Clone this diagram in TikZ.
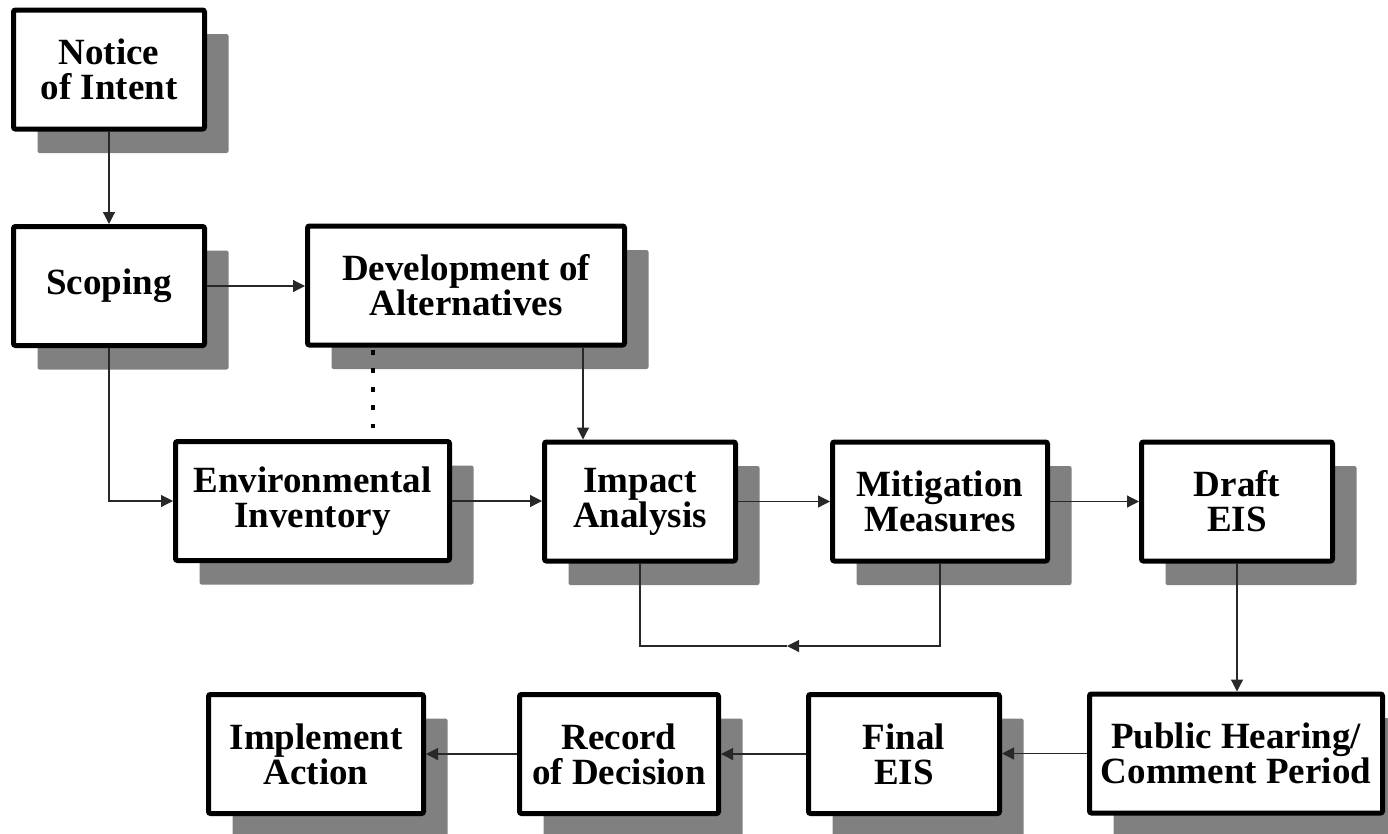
\documentclass[tikz,border=0pt]{standalone}
\usepackage{fontspec}
\setmainfont{Liberation Serif}
\usetikzlibrary{shadows,arrows.meta,calc}
\definecolor{shadowgray}{RGB}{128,128,128}
\definecolor{linegray}{RGB}{40,40,40}
\begin{document}
\begin{tikzpicture}[x=1pt,y=-1pt,
  box/.style={draw=black, line width=5pt, fill=white, rounded corners=2pt,
    minimum height=119pt, align=center, inner sep=0pt,
    font=\bfseries\fontsize{37}{35}\selectfont,
    drop shadow={shadow xshift=24pt, shadow yshift=-24pt, fill=shadowgray, opacity=1, rounded corners=0pt}},
  conn/.style={line width=1.2pt, draw=linegray},
  arr/.style={conn, -{Triangle[length=12pt,width=12pt]}},
  dotted link/.style={draw=black, line width=3.5pt, dash pattern=on 5pt off 13.5pt}]
\useasboundingbox (0,0) rectangle (1388,833);

\node[box, minimum width=191pt] (notice) at (109,69.5) {Notice\\of Intent};
\node[box, minimum width=191pt] (scoping) at (109,286) {Scoping};
\node[box, minimum width=317pt] (dev) at (466,285.5) {Development of\\Alternatives};
\node[box, minimum width=274pt] (env) at (312.5,501) {Environmental\\Inventory};
\node[box, minimum width=191pt] (impact) at (640,501.5) {Impact\\Analysis};
\node[box, minimum width=215pt] (mit) at (940,501.5) {Mitigation\\Measures};
\node[box, minimum width=191pt] (draft) at (1237,501.5) {Draft\\EIS};
\node[box, minimum width=293pt] (public) at (1236,753.5) {Public Hearing/\\Comment Period};
\node[box, minimum width=191pt] (final) at (904,754) {Final\\EIS};
\node[box, minimum width=199pt] (record) at (619,754) {Record\\of Decision};
\node[box, minimum width=215pt] (implement) at (316,754) {Implement\\Action};

\coordinate (devx) at (583,0);
\coordinate (dotend) at (373,428);
\coordinate (loopmid) at (787,646);

\draw[arr] (notice.south) -- (scoping.north);
\draw[arr] (scoping.east) -- (scoping.east -| dev.west);
\draw[arr] (scoping.south) |- (env.west);
\draw[dotted link] ($(dev.south -| dotend)+(0,2)$) -- (dotend);
\draw[arr] (dev.south -| devx) -- (impact.north -| devx);
\draw[arr] (env.east) -- (env.east -| impact.west);
\draw[arr] (impact.east) -- (impact.east -| mit.west);
\draw[arr] (mit.east) -- (mit.east -| draft.west);
\draw[arr] (mit.south) |- (loopmid);
\draw[conn] (loopmid) -| (impact.south);
\draw[arr] (draft.south) -- (draft.south |- public.north);
\draw[arr] (public.west) -- (public.west -| final.east);
\draw[arr] (final.west) -- (final.west -| record.east);
\draw[arr] (record.west) -- (record.west -| implement.east);
\end{tikzpicture}
\end{document}
